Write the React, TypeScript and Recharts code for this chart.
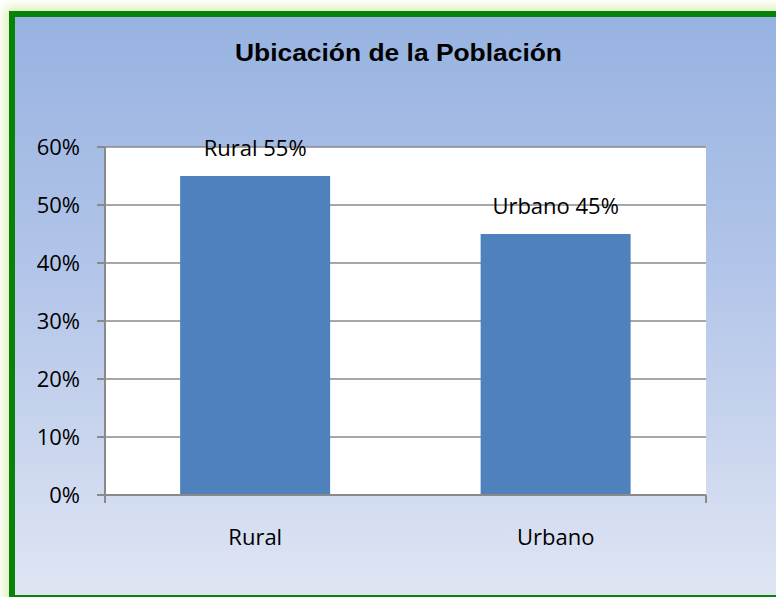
import { BarChart, Bar, XAxis, YAxis, CartesianGrid, LabelList } from "recharts";

const categories = ["Rural", "Urbano"];
const shares = [0.55, 0.45];
const yTicks = [0, 0.1, 0.2, 0.3, 0.4, 0.5, 0.6];
const edgeTicks = [0, 1, 2];

const data = categories.map((name, i) => ({
  name,
  share: shares[i],
  label: `${name} ${Math.round(shares[i] * 100)}%`,
}));

const FONT = "'Open Sans', sans-serif";
const AXIS = "#8a8a8a";
const pct = (v: number) => `${Math.round(v * 100)}%`;

export default function App() {
  return (
    <div
      style={{
        position: "absolute",
        left: 0,
        top: 0,
        width: 776,
        height: 597,
        overflow: "hidden",
        background: "#ffffff",
      }}
    >
      <div
        style={{
          position: "absolute",
          left: 9,
          top: 11,
          width: 800,
          height: 590,
          boxSizing: "border-box",
          border: "6px solid #088208",
          background: "linear-gradient(to bottom, #97b3e1 0%, #b3c5e9 45%, #dfe5f3 100%)",
          boxShadow: "0 0 10px 4px #dcf0b4",
        }}
      />
      <svg
        width={776}
        height={597}
        style={{ position: "absolute", left: 0, top: 0 }}
      >
        <text
          x={398.5}
          y={61}
          textAnchor="middle"
          textLength={327}
          lengthAdjust="spacingAndGlyphs"
          fontFamily="'Liberation Sans', Arial, sans-serif"
          fontWeight="bold"
          fontSize={23}
          fill="#000"
        >
          Ubicación de la Población
        </text>
      </svg>
      <div style={{ position: "absolute", left: 0, top: 0 }}>
        <BarChart
          width={776}
          height={597}
          data={data}
          margin={{ top: 147, right: 70, left: 0, bottom: 72 }}
          barCategoryGap="25%"
        >
          <CartesianGrid
            vertical={false}
            stroke={AXIS}
            strokeWidth={1.5}
            fill="#ffffff"
          />
          {/* second axis only for the tick marks between categories */}
          <XAxis
            xAxisId="a_edges"
            type="number"
            domain={[0, 2]}
            ticks={edgeTicks}
            height={1}
            stroke={AXIS}
            strokeWidth={2}
            tickSize={8}
            tickFormatter={() => ""}
          />
          <XAxis
            xAxisId="b_cat"
            dataKey="name"
            height={29}
            axisLine={false}
            tickLine={false}
            tickSize={0}
            tickMargin={33}
            tick={{ fill: "#000", fontSize: 22, fontFamily: FONT }}
          />
          <YAxis
            width={105}
            domain={[0, 0.6]}
            ticks={yTicks}
            tickFormatter={pct}
            stroke={AXIS}
            strokeWidth={2}
            tickSize={8}
            tickMargin={17}
            tick={{ fill: "#000", fontSize: 22, fontFamily: FONT }}
          />
          <Bar xAxisId="b_cat" dataKey="share" fill="#4f81bd" isAnimationActive={false}>
            <LabelList
              dataKey="label"
              position="top"
              offset={20}
              fill="#000"
              fontSize={22}
              fontFamily={FONT}
            />
          </Bar>
        </BarChart>
      </div>
    </div>
  );
}
